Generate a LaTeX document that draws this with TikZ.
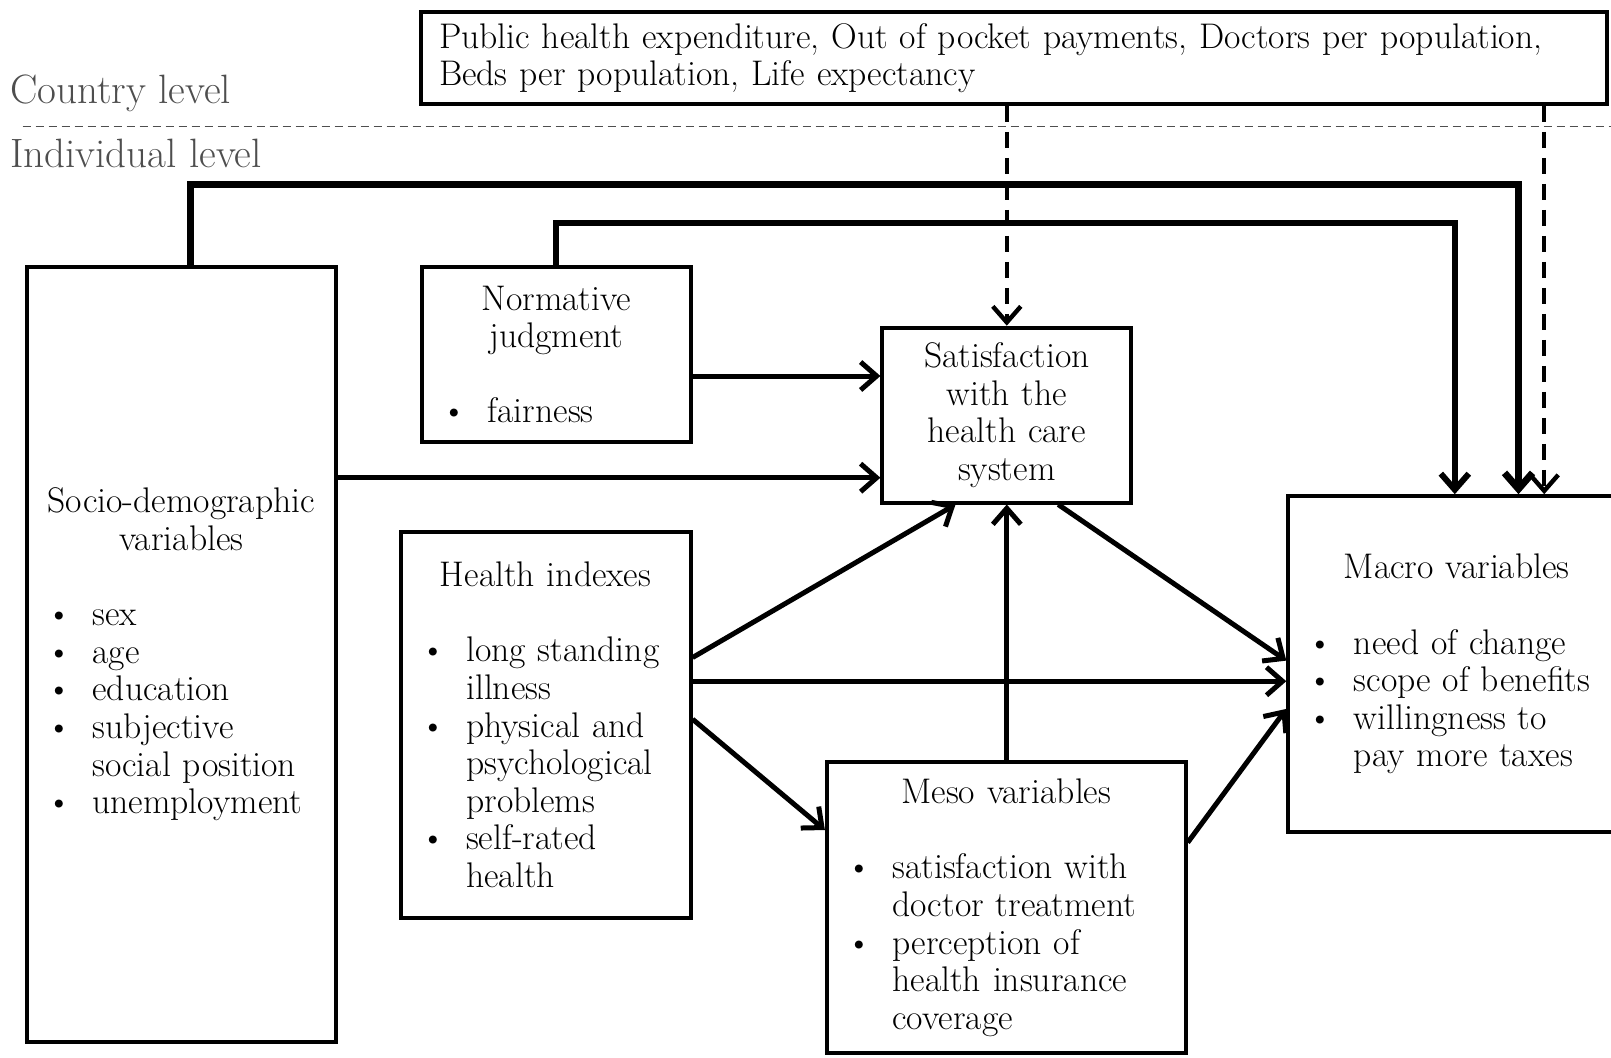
\documentclass[tikz,border=0pt]{standalone}
\usetikzlibrary{arrows.meta}
\definecolor{grisnivel}{HTML}{4E4E4E}
\newlength{\bltind}\setlength{\bltind}{23pt}
\newcommand{\blt}{\makebox[\bltind][l]{\textbullet}}
\newcommand{\cont}{\hspace*{\bltind}}

\begin{document}
\begin{tikzpicture}[x=0.5pt,y=-0.5pt,>={Straight Barb[length=8pt,width=14pt]},
  every node/.style={font=\fontsize{17.8}{18.8}\selectfont},
  box/.style={draw,line width=2pt,inner sep=0pt},
  lvl/.style={anchor=west,text=grisnivel,font=\fontsize{20.5}{22}\selectfont},
  arr/.style={->,line width=2.5pt},
  dasharr/.style={->,line width=2.2pt,dash pattern=on 8pt off 5pt}]
  \useasboundingbox (0,0) rectangle (1611,1057);
  \clip (0,0) rectangle (1611,1057);
  \node[lvl] (countrylbl) at (3,93) {Country level};
  \node[lvl] (indlbl) at (3,153) {Individual level};
  \draw[grisnivel,line width=0.8pt,dash pattern=on 4pt off 2.5pt] (22.6,126.4) -- (1611,126.4);
  \node[box,minimum width=593pt,minimum height=45.75pt,text width=575pt,align=left] (country) at (1014,58)
    {Public health expenditure, Out of pocket payments, Doctors per population,\\Beds per population, Life expectancy};
  \node[box,minimum width=154.6pt,minimum height=387.5pt,text width=135pt,align=left] (socio) at (181.4,654.5)
    {{\centering Socio-demographic\\variables\par}\vspace{18.8pt}
     \blt sex\\\blt age\\\blt education\\\blt subjective\\\cont social position\\\blt unemployment};
  \node[box,minimum width=134.2pt,minimum height=87.4pt,text width=114.6pt,align=left] (norm) at (556.4,354.4)
    {{\centering Normative\\judgment\par}\vspace{18.8pt}
     \blt fairness};
  \node[box,minimum width=124.4pt,minimum height=87.4pt,text width=110pt,align=center] (sat) at (1006.8,415.1)
    {Satisfaction\\with the\\health care\\system};
  \node[box,minimum width=145pt,minimum height=192.7pt,text width=125.4pt,align=left] (health) at (545.6,724.8)
    {{\centering Health indexes\par}\vspace{18.8pt}
     \blt long standing\\\cont illness\\\blt physical and\\\cont psychological\\\cont problems\\\blt self-rated\\\cont health};
  \node[box,minimum width=179.4pt,minimum height=145.4pt,text width=159.8pt,align=left] (meso) at (1006.3,907.7)
    {{\centering Meso variables\par}\vspace{18.8pt}
     \blt satisfaction with\\\cont doctor treatment\\\blt perception of\\\cont health insurance\\\cont coverage};
  \node[box,minimum width=168.4pt,minimum height=168pt,text width=148.8pt,align=left] (macro) at (1456.7,664.2)
    {{\centering Macro variables\par}\vspace{18.8pt}
     \blt need of change\\\blt scope of benefits\\\blt willingness to\\\cont pay more taxes};
  \draw[arr,line width=3.5pt] (socio.north -| 190,0) |- (1518.5,184) -- (macro.north -| 1518.5,0);
  \draw[arr,line width=3pt] (norm.north) |- (1454.8,223) -- (macro.north -| 1454.8,0);
  \draw[dasharr] (country.south -| sat.north) -- (sat.north);
  \draw[dasharr] (country.south -| 1544.2,0) -- (macro.north -| 1544.2,0);
  \draw[arr] (norm.east |- 0,376) -- (sat.west |- 0,376);
  \draw[arr] (socio.east |- 0,477.7) -- (sat.west |- 0,477.7);
  \draw[arr] (health.east |- 0,657.5) -- (sat.south -| 955.5,0);
  \draw[arr] (health.east |- 0,681.2) -- (macro.west |- 0,681.2);
  \draw[arr] (health.east |- 0,719.2) -- (meso.west |- 0,830);
  \draw[arr] (meso.north -| sat.south) -- (sat.south);
  \draw[arr] (sat.south -| 1058.2,0) -- (macro.west |- 0,660.6);
  \draw[arr] (meso.east |- 0,842.5) -- (macro.west |- 0,708.9);
\end{tikzpicture}
\end{document}
